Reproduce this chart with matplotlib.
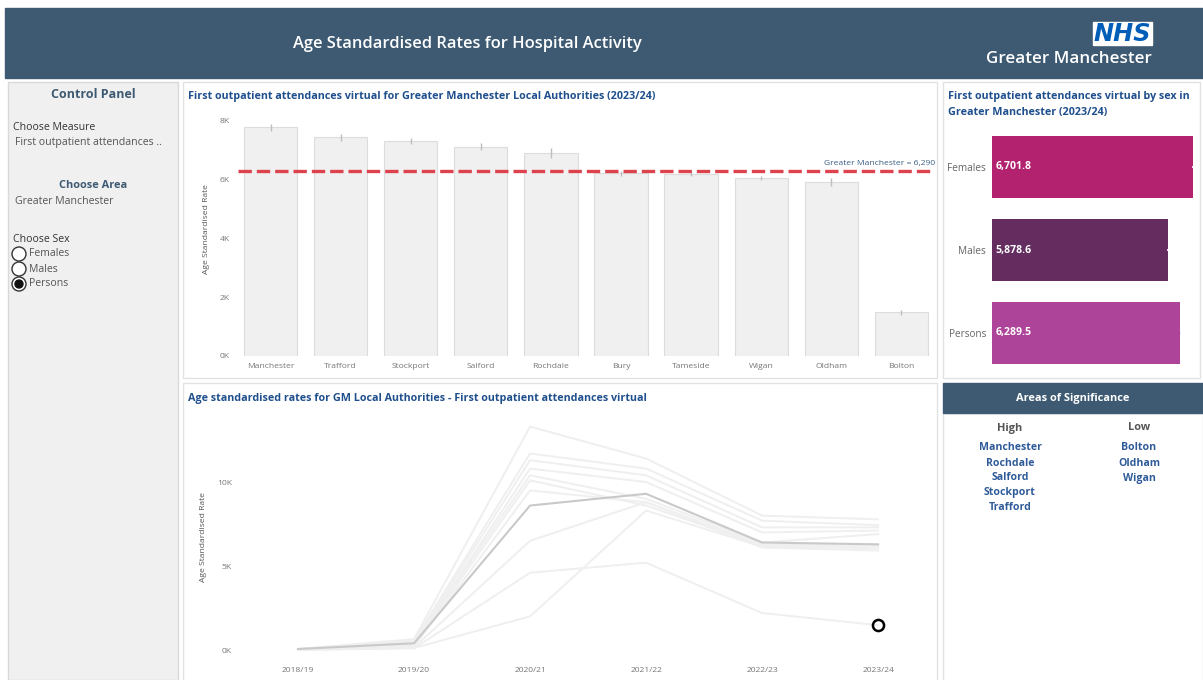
import matplotlib.pyplot as plt
from matplotlib.patches import Rectangle, Circle
from matplotlib.ticker import FuncFormatter

# --- data ---
areas = ["Manchester", "Trafford", "Stockport", "Salford", "Rochdale",
         "Bury", "Tameside", "Wigan", "Oldham", "Bolton"]
rates_2324 = [7780, 7430, 7300, 7110, 6900, 6210, 6200, 6060, 5920, 1480]
ci_half = [120, 110, 100, 120, 160, 80, 80, 70, 140, 80]
gm_rate = 6290

sex_labels = ["Females", "Males", "Persons"]
sex_rates = [6701.8, 5878.6, 6289.5]
sex_colors = ["#b3226f", "#642c5f", "#ae449a"]

years = ["2018/19", "2019/20", "2020/21", "2021/22", "2022/23", "2023/24"]
manchester_trend = [60, 650, 13300, 11400, 8000, 7780]
trafford_trend = [40, 550, 11700, 10800, 7700, 7430]
stockport_trend = [50, 450, 11300, 10400, 7300, 7300]
salford_trend = [30, 350, 10800, 10000, 7000, 7110]
rochdale_trend = [40, 400, 10400, 9000, 6400, 6900]
bury_trend = [20, 250, 10100, 8600, 6200, 6210]
tameside_trend = [20, 200, 9500, 8800, 6300, 6200]
wigan_trend = [10, 120, 2000, 8300, 6150, 6060]
oldham_trend = [10, 150, 6500, 8800, 6100, 5920]
bolton_trend = [10, 100, 4600, 5200, 2200, 1480]
gm_trend = [60, 400, 8600, 9300, 6400, 6290]
trend_series = [manchester_trend, trafford_trend, stockport_trend, salford_trend,
                rochdale_trend, bury_trend, tameside_trend, wigan_trend,
                oldham_trend, bolton_trend]

high_areas = ["Manchester", "Rochdale", "Salford", "Stockport", "Trafford"]
low_areas = ["Bolton", "Oldham", "Wigan"]

W, H = 1203, 680
SLATE = "#3d5a72"
TITLE_BLUE = "#1f4f8c"
FONT = "Open Sans"
plt.rcParams["font.family"] = [FONT, "DejaVu Sans"]

fig = plt.figure(figsize=(W / 100, H / 100), dpi=100)
fig.patch.set_facecolor("white")


def px_axes(x0, y0, x1, y1):
    # axes placed by pixel box (top-left origin)
    ax = fig.add_axes([x0 / W, 1 - y1 / H, (x1 - x0) / W, (y1 - y0) / H])
    ax.set_facecolor("none")
    return ax


def pt(px):
    return px * 0.72


# --- background layer in pixel coordinates ---
bg = fig.add_axes([0, 0, 1, 1])
bg.set_xlim(0, W)
bg.set_ylim(H, 0)
bg.axis("off")
bg.set_zorder(0)

bg.add_patch(Rectangle((5, 8), W - 5, 70, color=SLATE))
bg.text(467, 44, "Age Standardised Rates for Hospital Activity", color="white",
        fontsize=pt(16.5), fontweight="semibold", ha="center", va="center")
bg.add_patch(Rectangle((1093, 22), 59, 23, color="white"))
bg.text(1122, 34, "NHS", color="#005eb8", fontsize=pt(24), fontweight="heavy",
        style="italic", ha="center", va="center", family="DejaVu Sans")
bg.text(1152, 59, "Greater Manchester", color="white", fontsize=pt(17),
        fontweight="semibold", ha="right", va="center")

# control panel
bg.add_patch(Rectangle((8, 82), 170, 598, facecolor="#f0f0f0", edgecolor="#d9d9d9", lw=1))
bg.text(93, 95, "Control Panel", color=SLATE, fontsize=pt(12.5), fontweight="bold",
        ha="center", va="center")
bg.text(13, 128, "Choose Measure", color="#333333", fontsize=pt(10.5), va="center")
bg.text(15, 143, "First outpatient attendances ..", color="#555555", fontsize=pt(10.5),
        va="center")
bg.text(93, 186, "Choose Area", color=SLATE, fontsize=pt(11), fontweight="bold",
        ha="center", va="center")
bg.text(15, 201, "Greater Manchester", color="#555555", fontsize=pt(10.5), va="center")
bg.text(13, 239, "Choose Sex", color="#333333", fontsize=pt(10.5), va="center")
for i, lab in enumerate(sex_labels):
    cy = 254 + 15 * i
    bg.add_patch(Circle((19, cy), 7, facecolor="white", edgecolor="#333333", lw=1))
    if lab == "Persons":
        bg.add_patch(Circle((19, cy), 4, color="#111111"))
    bg.text(29, cy, lab, color="#555555", fontsize=pt(10.5), va="center")

# chart panels
for x0, y0, x1, y1 in [(183, 82, 937, 378), (943, 82, 1200, 378),
                       (183, 383, 937, 682), (943, 413, 1203, 682)]:
    bg.add_patch(Rectangle((x0, y0), x1 - x0, y1 - y0, facecolor="white",
                           edgecolor="#e2e2e2", lw=1))

bg.text(188, 96, "First outpatient attendances virtual for Greater Manchester "
        "Local Authorities (2023/24)", color=TITLE_BLUE, fontsize=pt(10.8),
        fontweight="bold", va="center")
bg.text(948, 96, "First outpatient attendances virtual by sex in", color=TITLE_BLUE,
        fontsize=pt(10.8), fontweight="bold", va="center")
bg.text(948, 112, "Greater Manchester (2023/24)", color=TITLE_BLUE,
        fontsize=pt(10.8), fontweight="bold", va="center")
bg.text(188, 399, "Age standardised rates for GM Local Authorities - First "
        "outpatient attendances virtual", color=TITLE_BLUE, fontsize=pt(10.8),
        fontweight="bold", va="center")

# areas of significance
bg.add_patch(Rectangle((943, 383), 260, 30, color=SLATE))
bg.text(1073, 399, "Areas of Significance", color="white", fontsize=pt(11),
        fontweight="bold", ha="center", va="center")
bg.text(1010, 428, "High", color="#555555", fontsize=pt(11), fontweight="bold",
        ha="center", va="center")
bg.text(1139, 428, "Low", color="#555555", fontsize=pt(11), fontweight="bold",
        ha="center", va="center")
for i, name in enumerate(high_areas):
    bg.text(1010, 448 + 15 * i, name, color="#2f5b98", fontsize=pt(10.5),
            fontweight="bold", ha="center", va="center")
for i, name in enumerate(low_areas):
    bg.text(1139, 448 + 15 * i, name, color="#2f5b98", fontsize=pt(10.5),
            fontweight="bold", ha="center", va="center")

k_fmt = FuncFormatter(lambda v, _: f"{v / 1000:.0f}K")

# --- bar chart by local authority ---
ax1 = px_axes(238, 103, 935, 356)
ax1.set_zorder(1)
xs = range(len(areas))
ax1.bar(xs, rates_2324, width=0.76, color="#f0f0f0", edgecolor="#dcdcdc", lw=0.8)
ax1.errorbar(xs, rates_2324, yerr=ci_half, fmt="none", ecolor="#bdbdbd",
             elinewidth=1, capsize=0)
ax1.axhline(gm_rate, color="#dc434d", lw=2.4, dashes=(4, 1.5))
ax1.text(9.48, gm_rate + 120, f"Greater Manchester = {gm_rate:,}", color="#3b6085",
         fontsize=pt(8.5), ha="right", va="bottom")
ax1.set_xlim(-0.465, 9.48)
ax1.set_ylim(0, 8600)
ax1.set_yticks([0, 2000, 4000, 6000, 8000])
ax1.yaxis.set_major_formatter(k_fmt)
ax1.set_xticks(list(xs))
ax1.set_xticklabels(areas)
ax1.tick_params(length=0, labelsize=pt(8.5), labelcolor="#777777")
ax1.tick_params(axis="x", pad=pt(7))
ax1.tick_params(axis="y", pad=pt(8))
ax1.set_ylabel("Age Standardised Rate", fontsize=pt(8.5), color="#555555", labelpad=pt(10))
for s in ax1.spines.values():
    s.set_visible(False)

# --- bar chart by sex ---
ax2 = px_axes(992, 125.5, 1197, 374.5)
ax2.set_zorder(1)
ys = range(len(sex_labels))
ax2.barh(ys, sex_rates, height=0.75, color=sex_colors)
ax2.errorbar(sex_rates, ys, xerr=[[15] * 3, [15] * 3], fmt="none", ecolor="#f3dbe9",
             elinewidth=1.5, capsize=0)
for y, v in zip(ys, sex_rates):
    ax2.text(120, y, f"{v:,.1f}", color="white", fontsize=pt(10.5), fontweight="bold",
             va="center", ha="left")
ax2.set_xlim(0, 6850)
ax2.set_ylim(2.5, -0.5)
ax2.set_yticks(list(ys))
ax2.set_yticklabels(sex_labels)
ax2.set_xticks([])
ax2.tick_params(length=0, labelsize=pt(10), labelcolor="#666666", pad=pt(6))
for s in ax2.spines.values():
    s.set_visible(False)

# --- trend lines ---
ax3 = px_axes(240, 415, 935, 660)
ax3.set_zorder(1)
xi = range(len(years))
for series in trend_series:
    ax3.plot(xi, series, color="#efefef", lw=1.4, solid_joinstyle="round")
ax3.plot(xi, gm_trend, color="#c9c9c9", lw=1.5)
ax3.plot([5], [bolton_trend[-1]], marker="o", ms=8, mfc="none", mec="black", mew=1.8)
ax3.set_xlim(-0.5, 5.49)
ax3.set_ylim(-595, 13990)
ax3.set_yticks([0, 5000, 10000])
ax3.yaxis.set_major_formatter(k_fmt)
ax3.set_xticks(list(xi))
ax3.set_xticklabels(years)
ax3.tick_params(length=0, labelsize=pt(8.5), labelcolor="#777777")
ax3.tick_params(axis="x", pad=pt(7))
ax3.tick_params(axis="y", pad=pt(8))
ax3.set_ylabel("Age Standardised Rate", fontsize=pt(8.5), color="#555555", labelpad=pt(10))
for s in ax3.spines.values():
    s.set_visible(False)

fig.savefig("out.png", dpi=100)
